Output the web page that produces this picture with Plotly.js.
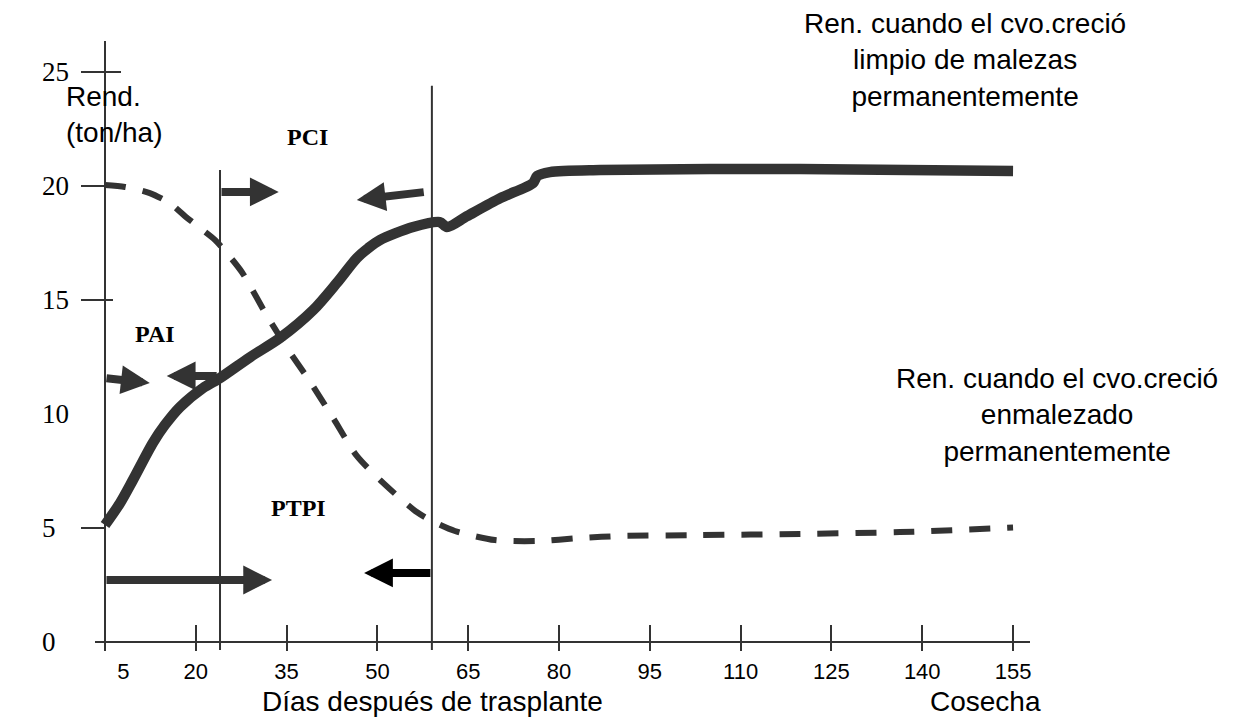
<!DOCTYPE html>
<html><head><meta charset="utf-8">
<script src="https://cdn.plot.ly/plotly-3.0.1.min.js"></script>
<style>html,body{margin:0;padding:0;background:#fff}#chart{width:1233px;height:721px}</style>
</head><body><div id="chart"></div>
<script>
// ---- data ----
const xTickVals = [5, 20, 35, 50, 65, 80, 95, 110, 125, 140, 155];
const xTickText = ['\u00a0\u00a0\u00a0\u00a0\u00a0\u00a05', '20', '35', '50', '65', '80', '95', '110', '125', '140', '155'];
const yTickVals = [0, 5, 10, 15, 20, 25];
const yTickText = ['0\u2007', '5\u2007', '10', '15', '20', '25'];
const yTickMarks = [5, 15, 20, 25];

// yield when crop grew weed-free permanently
const cleanDays  = [5, 7.5, 9.6, 12.9, 14.9, 17.4, 21.2, 24, 29, 33.9, 39.4, 43.3, 46.6, 48.5, 50.4, 55.9, 60.3, 61.5, 64.8, 70.3, 75.7, 76.4, 78.5, 86.8, 119.8, 155];
const cleanYield = [5.13, 6.1, 7.1, 8.73, 9.52, 10.31, 11.14, 11.58, 12.5, 13.33, 14.56, 15.75, 16.84, 17.28, 17.63, 18.2, 18.42, 18.2, 18.68, 19.47, 20.13, 20.44, 20.61, 20.7, 20.75, 20.66];

// yield when crop grew weedy permanently
const weedyDays  = [5, 8.3, 12.4, 15.7, 18.2, 20.7, 23.2, 27.6, 31.4, 35.4, 38.7, 42.7, 46.6, 51.3, 56.5, 59, 62.8, 69.4, 76.5, 83.5, 90.1, 103.3, 119.8, 136.3, 155];
const weedyYield = [20.04, 19.96, 19.69, 19.25, 18.68, 18.16, 17.63, 16.23, 14.47, 12.76, 11.49, 9.82, 8.16, 6.89, 5.70, 5.31, 4.87, 4.47, 4.43, 4.56, 4.65, 4.69, 4.74, 4.82, 5.02];

// period boundaries (days) and the height of their marker lines
const boundDays = [24, 59];
const boundTops = [20.7, 24.4];

// arrows: tail -> tip  [day, yield]
const arrowTails = [[5, 11.58], [23.7, 11.67], [24, 19.74], [57.9, 19.74], [5, 2.72], [59, 3.03]];
const arrowTips  = [[12.4, 11.36], [15.2, 11.67], [33.7, 19.74], [46.6, 19.39], [32.6, 2.72], [47.8, 3.03]];
const arrowColors = ['#333333', '#333333', '#333333', '#333333', '#333333', '#000000'];

// ---- layout ----
const xRange = [3.35, 157.8];
const yRange = [-0.35, 26.36];
const yAxisPos = (5 - xRange[0]) / (xRange[1] - xRange[0]);
const xAxisPos = (0 - yRange[0]) / (yRange[1] - yRange[0]);
const INK = '#333333';

const traces = [
  {x: weedyDays, y: weedyYield, mode: 'lines', line: {color: INK, width: 6, dash: '21px,17px', shape: 'spline', smoothing: 0.7}, hoverinfo: 'skip'},
  {x: cleanDays, y: cleanYield, mode: 'lines', line: {color: INK, width: 10.5, shape: 'spline', smoothing: 0.8}, hoverinfo: 'skip'}
];

const shapes = [];
boundDays.forEach((d, i) => {
  shapes.push({type: 'line', xref: 'x', yref: 'y', x0: d, x1: d, y0: yRange[0], y1: boundTops[i], line: {color: INK, width: 2}, layer: 'below'});
});
// inner parts of crossing y ticks
shapes.push({type: 'line', xref: 'x', yref: 'y', xsizemode: 'pixel', xanchor: 5, x0: 0, x1: 16, y0: 25, y1: 25, line: {color: INK, width: 2}});
shapes.push({type: 'line', xref: 'x', yref: 'y', xsizemode: 'pixel', xanchor: 5, x0: 0, x1: 8, y0: 15, y1: 15, line: {color: INK, width: 2}});
shapes.push({type: 'line', xref: 'x', yref: 'y', xsizemode: 'pixel', xanchor: 5, x0: -31, x1: -23, y0: 20, y1: 20, line: {color: INK, width: 2}});

const annotations = [];
arrowTails.forEach((t, i) => {
  annotations.push({x: arrowTips[i][0], y: arrowTips[i][1], ax: t[0], ay: t[1], xref: 'x', yref: 'y', axref: 'x', ayref: 'y',
    text: '', showarrow: true, arrowhead: 2, arrowsize: 0.72, arrowwidth: 8, arrowcolor: arrowColors[i], standoff: 0});
});
const serifB = {family: 'Liberation Serif, Times New Roman, serif', size: 24, color: '#000'};
const sans = {family: 'Liberation Sans, Arial, sans-serif', size: 28, color: '#000'};
annotations.push({x: 38.4, y: 22.15, xref: 'x', yref: 'y', text: '<b>PCI</b>', showarrow: false, font: serifB});
annotations.push({x: 13.3, y: 13.5, xref: 'x', yref: 'y', text: '<b>PAI</b>', showarrow: false, font: serifB});
annotations.push({x: 37.0, y: 5.88, xref: 'x', yref: 'y', text: '<b>PTPI</b>', showarrow: false, font: serifB});
annotations.push({x: 64, y: 115, xref: 'paper', yref: 'paper', xanchor: 'left', yanchor: 'middle', align: 'left', text: 'Rend.<br>(ton/ha)', showarrow: false, font: sans});
annotations.push({x: 965, y: 60, text: 'Ren. cuando el cvo.creció<br>limpio de malezas<br>permanentemente', showarrow: false, font: sans});
annotations.push({x: 1057, y: 415, text: 'Ren. cuando el cvo.creció<br>enmalezado<br>permanentemente', showarrow: false, font: sans});
annotations.push({x: 432, y: 701, text: 'Días después de trasplante', showarrow: false, font: sans});
annotations.push({x: 985, y: 701, text: 'Cosecha', showarrow: false, font: sans});

// convert pixel-placed text annotations into paper coords
const L = 95, R = 203, T = 41, B = 71, W = 1233, H = 721;
annotations.forEach(a => {
  if (a.xref === undefined) {
    a.xref = 'paper'; a.yref = 'paper';
    a.x = (a.x - L) / (W - L - R);
    a.y = 1 - (a.y - T) / (H - T - B);
    a.xanchor = 'center'; a.yanchor = 'middle';
  } else if (a.xref === 'paper') {
    a.x = (a.x - L) / (W - L - R);
    a.y = 1 - (a.y - T) / (H - T - B);
  }
});

const layout = {
  width: W, height: H,
  margin: {l: L, r: R, t: T, b: B, pad: 0},
  paper_bgcolor: '#fff', plot_bgcolor: 'rgba(0,0,0,0)',
  showlegend: false,
  xaxis: {range: xRange, anchor: 'free', position: xAxisPos, showgrid: false, zeroline: false,
    showline: true, linecolor: INK, linewidth: 2,
    tickmode: 'array', tickvals: xTickVals, ticktext: xTickText,
    ticks: 'inside', ticklen: 16, tickwidth: 2, tickcolor: INK, ticklabelstandoff: 10,
    tickfont: {family: 'Liberation Sans, Arial, sans-serif', size: 22, color: '#000'}, fixedrange: true},
  xaxis2: {range: xRange, overlaying: 'x', anchor: 'free', position: xAxisPos, showgrid: false, zeroline: false,
    showline: false, tickmode: 'array', tickvals: xTickVals, ticks: 'outside', ticklen: 8, tickwidth: 2, tickcolor: INK,
    showticklabels: false, fixedrange: true},
  yaxis: {range: yRange, anchor: 'free', position: yAxisPos, showgrid: false, zeroline: false,
    showline: true, linecolor: INK, linewidth: 2,
    tickmode: 'array', tickvals: yTickMarks, ticks: 'outside', ticklen: 23, tickwidth: 2, tickcolor: INK,
    showticklabels: false, fixedrange: true},
  yaxis2: {range: yRange, overlaying: 'y', anchor: 'free', position: 0, showgrid: false, zeroline: false,
    showline: false, tickmode: 'array', tickvals: yTickVals, ticktext: yTickText, ticks: '',
    ticklabelstandoff: 26,
    tickfont: {family: 'Liberation Serif, Times New Roman, serif', size: 27, color: '#000'}, fixedrange: true},
  shapes: shapes,
  annotations: annotations
};

// dummy traces so the overlay axes are drawn
traces.push({x: [null], y: [null], xaxis: 'x2', yaxis: 'y', hoverinfo: 'skip'});
traces.push({x: [null], y: [null], xaxis: 'x', yaxis: 'y2', hoverinfo: 'skip'});

Plotly.newPlot('chart', traces, layout, {displayModeBar: false, staticPlot: true});
</script>
</body></html>
